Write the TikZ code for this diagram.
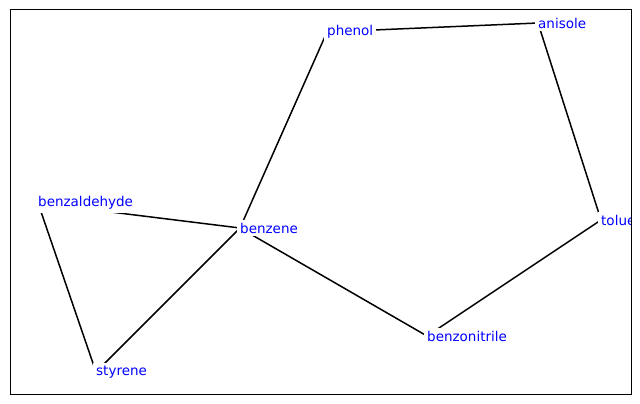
\documentclass[tikz,border=0pt]{standalone}
\usepackage{fontspec}
\setmainfont{DejaVu Sans}
\usetikzlibrary{calc}
\definecolor{label}{HTML}{0000FF}
\tikzset{
  mol/.style={fill=white, text=label, font=\fontsize{13.5}{15}\selectfont,
    inner sep=3pt, anchor=west, xshift=-3pt},
  bond/.style={draw=black, line width=1.5pt},
}
\begin{document}
\begin{tikzpicture}[x=1pt, y=-1pt]
\useasboundingbox (0,0) rectangle (640,404);
\begin{scope}
\clip (10,10) rectangle (631,394);
% molecule positions
\coordinate (phenol) at (327,32);
\coordinate (anisole) at (538,23);
\coordinate (toluene) at (601,220);
\coordinate (benzonitrile) at (427,336);
\coordinate (benzene) at (240,228);
\coordinate (benzaldehyde) at (38,203);
\coordinate (styrene) at (96,372);
% bonds
\foreach \a/\b in {phenol/anisole, anisole/toluene, toluene/benzonitrile,
  benzonitrile/benzene, benzene/phenol, benzene/benzaldehyde,
  benzene/styrene, benzaldehyde/styrene}
  \draw[bond] (\a) -- (\b);
% labels
\foreach \m in {phenol, anisole, toluene, benzonitrile, benzene, benzaldehyde, styrene}
  \node[mol] (\m-lbl) at (\m) {\m};
\end{scope}
\draw[line width=1pt] (10,10) rectangle (631,394);
\end{tikzpicture}
\end{document}
